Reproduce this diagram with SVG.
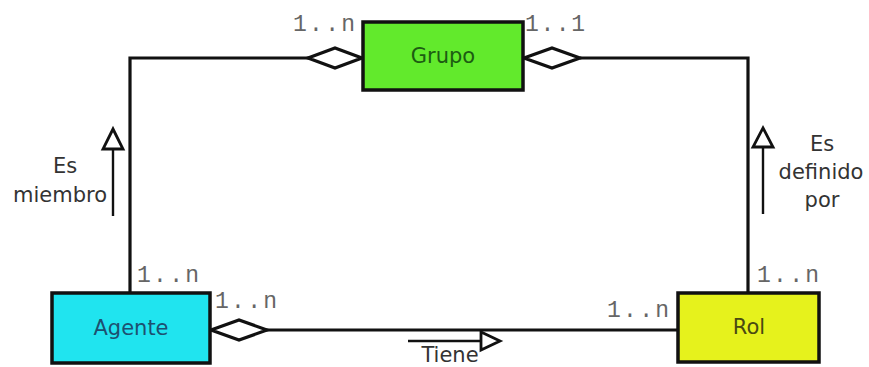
<svg xmlns="http://www.w3.org/2000/svg" width="869" height="367" viewBox="0 0 869 367">
  <style>
    .box { stroke: #111; stroke-width: 3.5; }
    .name { font-family: "DejaVu Sans", sans-serif; font-size: 21px; text-anchor: middle; }
    .mult { font-family: "Liberation Mono", monospace; font-size: 23px; fill: #666; }
    .lbl { font-family: "DejaVu Sans", sans-serif; font-size: 21px; fill: #333; text-anchor: middle; }
    .wire { fill: none; stroke: #111; stroke-width: 3.2; }
    .diamond { fill: #fff; stroke: #111; stroke-width: 3.2; stroke-linejoin: miter; }
    .dir { fill: none; stroke: #111; stroke-width: 2.4; }
    .tri { fill: #fff; stroke: #111; stroke-width: 2.8; stroke-linejoin: miter; }
  </style>
  <rect width="869" height="367" fill="#fff"/>

  <g id="connectors">
    <!-- Agente to Grupo -->
    <polyline class="wire" points="130,293 130,58 310,58"/>
    <polygon class="diamond" points="308,58 335,48 362,58 335,68"/>
    <!-- Rol to Grupo -->
    <polyline class="wire" points="748,293 748,58 580,58"/>
    <polygon class="diamond" points="524,58 552,48 580,58 552,68"/>
    <!-- Agente to Rol -->
    <line class="wire" x1="266" y1="330" x2="678" y2="330"/>
    <polygon class="diamond" points="211,330 239,320 267,330 239,340"/>

    <!-- reading-direction arrows -->
    <line class="dir" x1="113" y1="216" x2="113" y2="150"/>
    <polygon class="tri" points="113,129 123,149 103,149"/>
    <line class="dir" x1="763" y1="214" x2="763" y2="148"/>
    <polygon class="tri" points="763,128 773,147 753,147"/>
    <line class="dir" x1="408" y1="341" x2="481" y2="341"/>
    <polygon class="tri" points="500,341 481,332 481,350"/>

    <!-- association labels -->
    <text class="lbl" x="65" y="173">Es</text>
    <text class="lbl" x="60" y="202">miembro</text>
    <text class="lbl" x="822" y="151">Es</text>
    <text class="lbl" x="821" y="179">definido</text>
    <text class="lbl" x="822" y="207">por</text>
    <text class="lbl" x="450" y="362">Tiene</text>

    <!-- multiplicities -->
    <text class="mult" x="293" y="31" textLength="62">1..n</text>
    <text class="mult" x="525" y="31" textLength="60">1..1</text>
    <text class="mult" x="137" y="282" textLength="62">1..n</text>
    <text class="mult" x="215" y="308" textLength="62">1..n</text>
    <text class="mult" x="607" y="317" textLength="62">1..n</text>
    <text class="mult" x="757" y="282" textLength="62">1..n</text>
  </g>

  <g id="grupo">
    <rect class="box" x="363" y="22" width="160" height="68" fill="#62ea2c"/>
    <text class="name" x="443" y="63" fill="#1c5c12">Grupo</text>
  </g>

  <g id="agente">
    <rect class="box" x="52" y="293" width="158" height="70" fill="#20e4ef"/>
    <text class="name" x="131" y="335" fill="#1d5070">Agente</text>
  </g>

  <g id="rol">
    <rect class="box" x="678" y="293" width="141" height="69" fill="#e6f21c"/>
    <text class="name" x="749" y="334" fill="#4a4a12">Rol</text>
  </g>
</svg>
